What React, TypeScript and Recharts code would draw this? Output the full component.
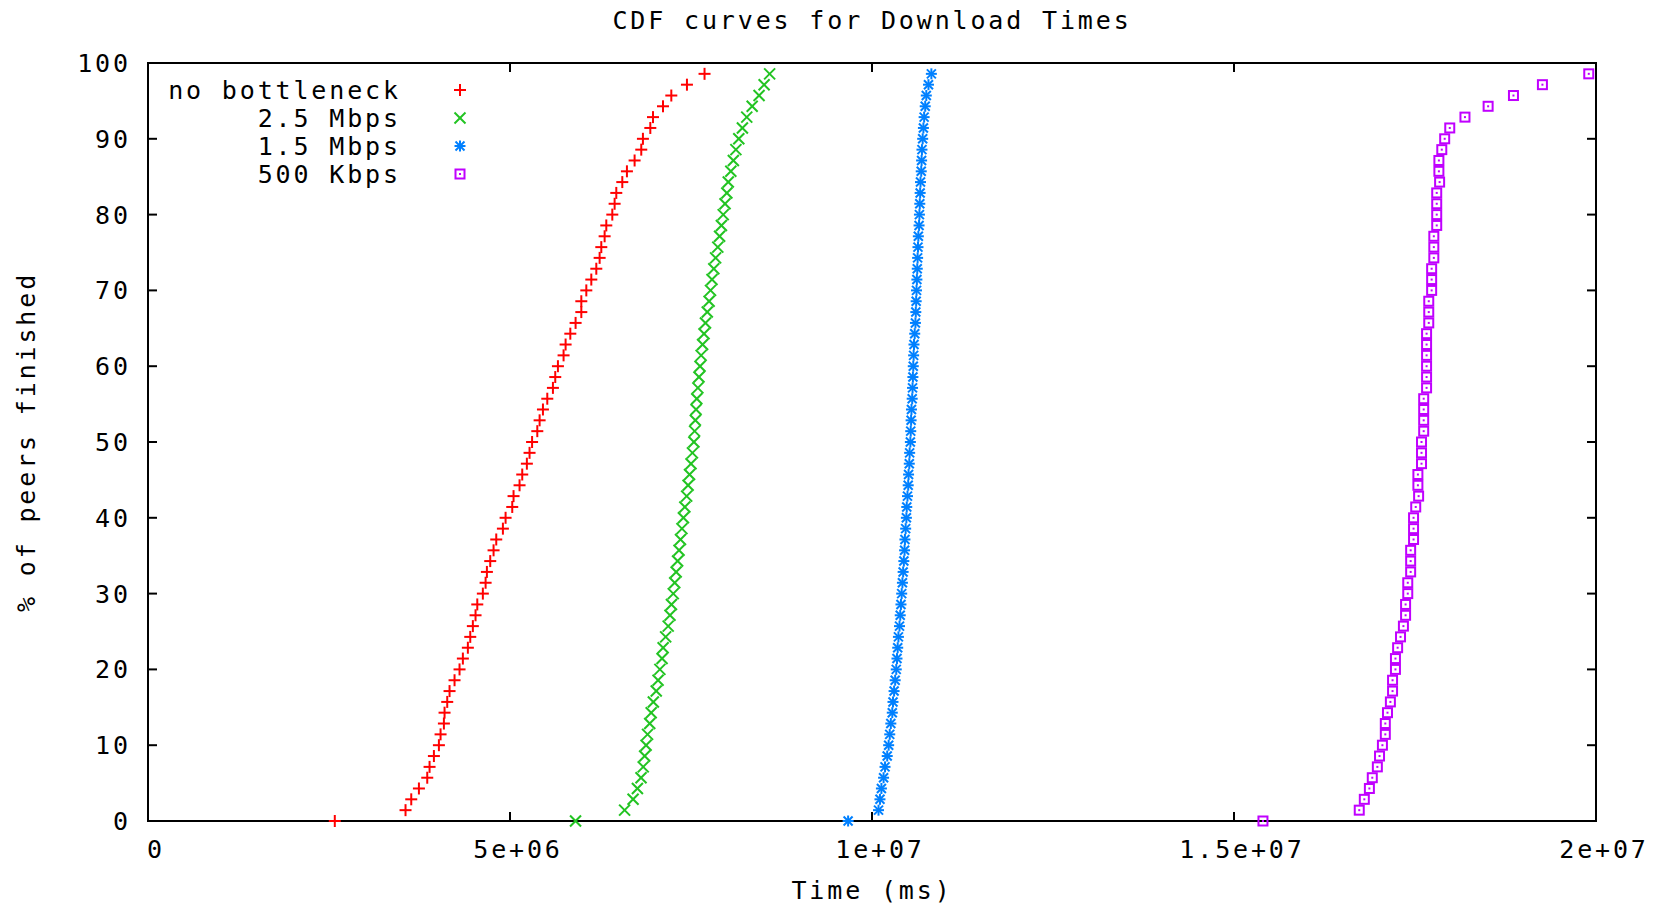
import React from "react";
import { ScatterChart, Scatter, XAxis, YAxis, ReferenceArea, Legend } from "recharts";

// % of peers finished (CDF level of each of the 70 peers)
const PEERS_PCT = [
  0, 1.43, 2.86, 4.29, 5.71, 7.14, 8.57, 10, 11.43, 12.86,
  14.29, 15.71, 17.14, 18.57, 20, 21.43, 22.86, 24.29, 25.71, 27.14,
  28.57, 30, 31.43, 32.86, 34.29, 35.71, 37.14, 38.57, 40, 41.43,
  42.86, 44.29, 45.71, 47.14, 48.57, 50, 51.43, 52.86, 54.29, 55.71,
  57.14, 58.57, 60, 61.43, 62.86, 64.29, 65.71, 67.14, 68.57, 70,
  71.43, 72.86, 74.29, 75.71, 77.14, 78.57, 80, 81.43, 82.86, 84.29,
  85.71, 87.14, 88.57, 90, 91.43, 92.86, 94.29, 95.71, 97.14, 98.57,
];

// download times, millions of ms
const noBottleneck = [
  2.58, 3.557, 3.636, 3.742, 3.857, 3.889, 3.949, 4.018, 4.041, 4.087,
  4.096, 4.133, 4.165, 4.234, 4.303, 4.349, 4.418, 4.451, 4.487, 4.524,
  4.548, 4.625, 4.663, 4.681, 4.727, 4.773, 4.81, 4.902, 4.939, 5.031,
  5.049, 5.132, 5.169, 5.233, 5.27, 5.305, 5.377, 5.409, 5.455, 5.515,
  5.593, 5.625, 5.662, 5.74, 5.768, 5.833, 5.906, 5.985, 5.985, 6.054,
  6.123, 6.192, 6.238, 6.261, 6.307, 6.33, 6.413, 6.445, 6.468, 6.551,
  6.615, 6.721, 6.813, 6.836, 6.938, 6.975, 7.113, 7.228, 7.444, 7.687,
];

const mbps25 = [
  5.905, 6.583, 6.7, 6.76, 6.81, 6.84, 6.86, 6.88, 6.9, 6.93,
  6.95, 6.98, 7.02, 7.045, 7.07, 7.1, 7.115, 7.15, 7.185, 7.21,
  7.23, 7.255, 7.275, 7.295, 7.315, 7.335, 7.355, 7.375, 7.395, 7.415,
  7.44, 7.46, 7.48, 7.5, 7.52, 7.54, 7.55, 7.56, 7.57, 7.58,
  7.595, 7.61, 7.625, 7.64, 7.66, 7.68, 7.7, 7.725, 7.75, 7.77,
  7.79, 7.815, 7.84, 7.87, 7.895, 7.92, 7.945, 7.97, 7.995, 8.015,
  8.05, 8.085, 8.12, 8.16, 8.21, 8.27, 8.345, 8.44, 8.51, 8.586,
];

const mbps15 = [
  9.67, 10.09, 10.11, 10.13, 10.16, 10.18, 10.21, 10.23, 10.245, 10.26,
  10.28, 10.29, 10.305, 10.32, 10.335, 10.345, 10.355, 10.365, 10.38, 10.39,
  10.4, 10.41, 10.42, 10.43, 10.44, 10.45, 10.455, 10.465, 10.475, 10.48,
  10.49, 10.5, 10.505, 10.515, 10.52, 10.53, 10.535, 10.54, 10.545, 10.555,
  10.56, 10.565, 10.57, 10.575, 10.58, 10.59, 10.6, 10.605, 10.61, 10.615,
  10.62, 10.625, 10.63, 10.635, 10.64, 10.65, 10.655, 10.66, 10.665, 10.67,
  10.68, 10.685, 10.69, 10.7, 10.71, 10.72, 10.735, 10.75, 10.78, 10.82,
];

const kbps500 = [
  15.4, 16.73, 16.8, 16.87, 16.91, 16.98, 17.01, 17.05, 17.09, 17.09,
  17.12, 17.16, 17.19, 17.19, 17.23, 17.23, 17.26, 17.3, 17.34, 17.37,
  17.37, 17.4, 17.4, 17.44, 17.44, 17.44, 17.48, 17.48, 17.48, 17.51,
  17.55, 17.54, 17.54, 17.59, 17.59, 17.59, 17.62, 17.62, 17.62, 17.62,
  17.66, 17.66, 17.66, 17.66, 17.66, 17.66, 17.69, 17.69, 17.69, 17.73,
  17.73, 17.73, 17.76, 17.76, 17.76, 17.8, 17.8, 17.8, 17.8, 17.84,
  17.83, 17.83, 17.87, 17.91, 17.98, 18.19, 18.51, 18.86, 19.26, 19.9,
];

const X_TICKS = [0, 5e6, 1e7, 1.5e7, 2e7];
const X_TICK_LABELS = ["0", "5e+06", "1e+07", "1.5e+07", "2e+07"];
const Y_TICKS = [0, 10, 20, 30, 40, 50, 60, 70, 80, 90, 100];

const FONT = "'DejaVu Sans Mono', 'Liberation Mono', monospace";
const FONT_SIZE = 25;
const SPACING = 2.85;

const PLOT_LEFT = 148;
const PLOT_RIGHT = 1596;
const PLOT_TOP = 63;
const PLOT_BOTTOM = 821;
const TICK_LEN = 9;

type Kind = "plus" | "cross" | "star" | "square";

const SERIES: { name: string; color: string; kind: Kind; times: number[] }[] = [
  { name: "no bottleneck", color: "#ff0000", kind: "plus", times: noBottleneck },
  { name: "2.5 Mbps", color: "#22c322", kind: "cross", times: mbps25 },
  { name: "1.5 Mbps", color: "#0080ff", kind: "star", times: mbps15 },
  { name: "500 Kbps", color: "#c000ff", kind: "square", times: kbps500 },
];

function toPoints(times: number[]) {
  return times.map((t, i) => ({ time: t * 1e6, pct: PEERS_PCT[i] }));
}

function Marker({ kind, cx, cy, color }: { kind: Kind; cx: number; cy: number; color: string }) {
  if (cx == null || cy == null) return null;
  const plus = (r: number) => (
    <>
      <line x1={cx - r} x2={cx + r} y1={cy} y2={cy} />
      <line x1={cx} x2={cx} y1={cy - r} y2={cy + r} />
    </>
  );
  const cross = (r: number) => (
    <>
      <line x1={cx - r} x2={cx + r} y1={cy - r} y2={cy + r} />
      <line x1={cx - r} x2={cx + r} y1={cy + r} y2={cy - r} />
    </>
  );
  if (kind === "square") {
    return (
      <g>
        <rect x={cx - 4.5} y={cy - 4.5} width={9} height={9} fill="none" stroke={color} strokeWidth={2} />
        <rect x={cx - 1} y={cy - 1} width={2} height={2} fill={color} />
      </g>
    );
  }
  return (
    <g stroke={color} strokeWidth={2}>
      {kind === "plus" && plus(6)}
      {kind === "cross" && cross(5.5)}
      {kind === "star" && (
        <>
          {plus(5.5)}
          {cross(4.5)}
        </>
      )}
    </g>
  );
}

const textStyle = {
  fontFamily: FONT,
  fontSize: FONT_SIZE,
  letterSpacing: SPACING,
  fill: "#000",
};

function XTick(props: any) {
  const { x, payload } = props;
  const label = X_TICK_LABELS[X_TICKS.indexOf(payload.value)];
  return (
    <g>
      <line x1={x} x2={x} y1={PLOT_BOTTOM} y2={PLOT_BOTTOM - TICK_LEN} stroke="#000" strokeWidth={2} />
      <line x1={x} x2={x} y1={PLOT_TOP} y2={PLOT_TOP + TICK_LEN} stroke="#000" strokeWidth={2} />
      <text x={x + 8} y={858} textAnchor="middle" style={textStyle}>
        {label}
      </text>
    </g>
  );
}

function YTick(props: any) {
  const { y, payload } = props;
  return (
    <g>
      <line x1={PLOT_LEFT} x2={PLOT_LEFT + TICK_LEN} y1={y} y2={y} stroke="#000" strokeWidth={2} />
      <line x1={PLOT_RIGHT} x2={PLOT_RIGHT - TICK_LEN} y1={y} y2={y} stroke="#000" strokeWidth={2} />
      <text x={128 + SPACING} y={y + 9} textAnchor="end" style={textStyle}>
        {payload.value}
      </text>
    </g>
  );
}

function KeyBox() {
  return (
    <svg width={340} height={120} style={{ display: "block" }}>
      {SERIES.map((s, i) => {
        const cy = 16 + i * 28;
        return (
          <g key={s.name}>
            <text x={248 + SPACING} y={cy + 9} textAnchor="end" style={textStyle}>
              {s.name}
            </text>
            <Marker kind={s.kind} cx={310} cy={cy} color={s.color} />
          </g>
        );
      })}
    </svg>
  );
}

export default function App() {
  return (
    <div style={{ position: "absolute", left: 0, top: 0, width: 1663, height: 905, background: "#fff" }}>
      <div
        style={{
          position: "absolute",
          left: PLOT_LEFT,
          width: PLOT_RIGHT - PLOT_LEFT,
          top: 8,
          textAlign: "center",
          fontFamily: FONT,
          fontSize: FONT_SIZE,
          letterSpacing: SPACING,
          lineHeight: "25px",
          color: "#000",
          whiteSpace: "pre",
        }}
      >
        CDF curves for Download Times
      </div>
      <ScatterChart width={1663} height={905} margin={{ top: PLOT_TOP, right: 1663 - PLOT_RIGHT, bottom: 0, left: 0 }}>
        <XAxis
          dataKey="time"
          type="number"
          domain={[0, 2e7]}
          ticks={X_TICKS}
          interval={0}
          height={905 - PLOT_BOTTOM}
          axisLine={false}
          tickLine={false}
          tick={XTick}
          label={{
            content: () => (
              <text x={872} y={899} textAnchor="middle" style={textStyle}>
                Time (ms)
              </text>
            ),
          }}
        />
        <YAxis
          dataKey="pct"
          type="number"
          domain={[0, 100]}
          ticks={Y_TICKS}
          interval={0}
          width={PLOT_LEFT}
          axisLine={false}
          tickLine={false}
          tick={YTick}
          label={{
            content: () => (
              <text x={35} y={442} transform="rotate(-90, 35, 442)" textAnchor="middle" style={textStyle}>
                % of peers finished
              </text>
            ),
          }}
        />
        <ReferenceArea x1={0} x2={2e7} y1={0} y2={100} fill="none" stroke="#000" strokeWidth={2} />
        {SERIES.map((s) => (
          <Scatter
            key={s.name}
            name={s.name}
            data={toPoints(s.times)}
            isAnimationActive={false}
            shape={(p: any) => <Marker kind={s.kind} cx={p.cx} cy={p.cy} color={s.color} />}
          />
        ))}
        <Legend
          layout="vertical"
          align="center"
          verticalAlign="middle"
          content={() => <KeyBox />}
          wrapperStyle={{ left: 150, top: 74, width: 340, height: 120 }}
        />
      </ScatterChart>
    </div>
  );
}
